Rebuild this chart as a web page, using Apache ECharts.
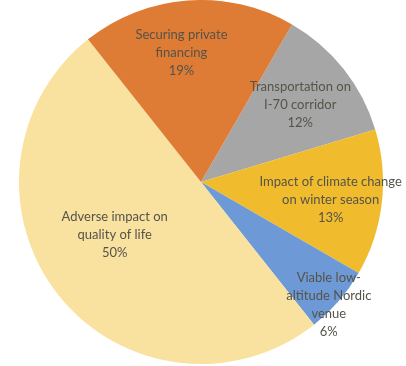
<!DOCTYPE html>
<html><head><meta charset="utf-8">
<style>html,body{margin:0;padding:0;background:#fff}#c{width:406px;height:366px}</style>
<script src="https://cdn.jsdelivr.net/npm/echarts@6/dist/echarts.min.js"></script>
</head><body><div id="c"></div>
<script>
// data (clockwise order starting after the top-right)
const categories = ["Transportation on\nI-70 corridor", "Impact of climate change\non winter season", "Viable low-\naltitude Nordic\nvenue", "Adverse impact on\nquality of life", "Securing private\nfinancing"];
const percents = [12, 13, 6, 50, 19];
const colors = ["#a6a6a6", "#f0bc2e", "#6d9ad6", "#f9e29f", "#de7b35"];
const labelOffsets = [[-3, 4], [0, 3], [29, 38], [16, -28], [-10, 1]];

const chart = echarts.init(document.getElementById('c'), null, {renderer: 'canvas'});
const base = categories.map((c, i) => ({name: c, value: percents[i]}));
chart.setOption({
  animation: false,
  backgroundColor: '#ffffff',
  series: [
    {
      type: 'pie', center: [201, 182], radius: [0, 182], startAngle: 60, clockwise: true,
      silent: true, label: {show: false}, labelLine: {show: false},
      data: base.map((d, i) => ({...d, itemStyle: {color: colors[i]}}))
    },
    {
      type: 'pie', center: [201, 182], radius: [73, 182], startAngle: 60, clockwise: true,
      silent: true, labelLine: {show: false},
      itemStyle: {color: 'rgba(0,0,0,0)'},
      label: {
        show: true, position: 'inside', color: '#55534a',
        fontFamily: 'Lato', fontSize: 13, lineHeight: 18, align: 'center',
        formatter: p => p.name + '\n' + p.value + '%'
      },
      data: base.map((d, i) => ({...d, label: {offset: labelOffsets[i]}}))
    }
  ]
});
</script></body></html>
